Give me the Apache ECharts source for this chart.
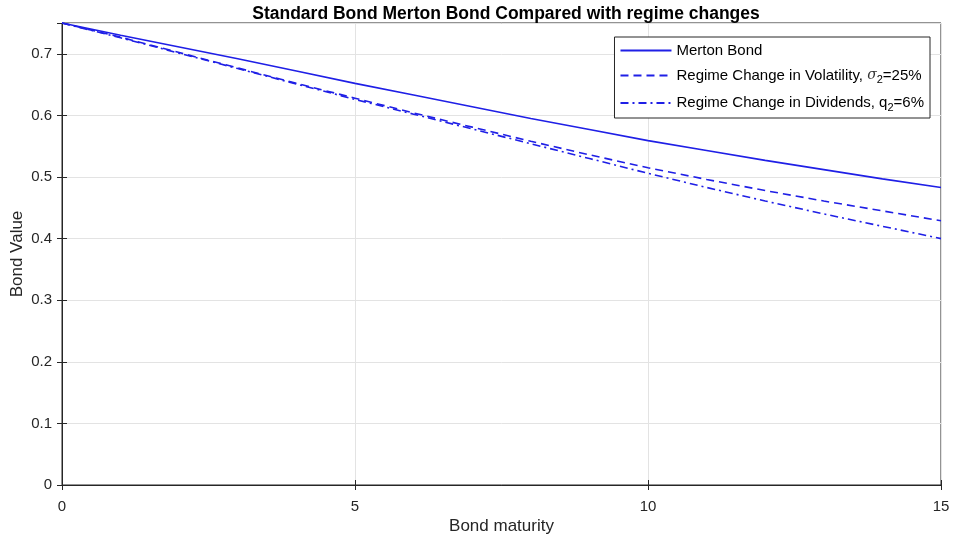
<!DOCTYPE html>
<html>
<head>
<meta charset="utf-8">
<script src="https://cdn.jsdelivr.net/npm/echarts@6/dist/echarts.min.js"></script>
<style>
  html, body { margin: 0; padding: 0; background: #fff; }
  #main { width: 953px; height: 543px; }
</style>
</head>
<body>
<div id="main"></div>
<script>
// maturities (years)
const maturity = [0, 1, 2, 3, 4, 5, 6, 7, 8, 9, 10, 11, 12, 13, 14, 15]
// bond values
const mertonBond = [0.750, 0.730, 0.711, 0.692, 0.672, 0.652, 0.633, 0.614, 0.595, 0.577, 0.559, 0.543, 0.527, 0.512, 0.497, 0.483]
const volRegime = [0.750, 0.727, 0.702, 0.677, 0.652, 0.628, 0.604, 0.581, 0.558, 0.536, 0.515, 0.496, 0.478, 0.461, 0.445, 0.429]
const divRegime = [0.750, 0.726, 0.701, 0.676, 0.651, 0.626, 0.602, 0.578, 0.554, 0.530, 0.506, 0.483, 0.461, 0.440, 0.420, 0.400]
const yTicks = [0, 0.1, 0.2, 0.3, 0.4, 0.5, 0.6, 0.7]

const blue = '#1f1fe6'
const font = 'Liberation Sans, Arial, Helvetica, sans-serif'

const pairs = (ys) => maturity.map((x, i) => [x, ys[i]])

var myChart = echarts.init(document.getElementById('main'))

// MATLAB style: small ticks pointing into the plot
const tick = () => ({ show: true, inside: true, length: 5, lineStyle: { color: '#262626', width: 1 } })

var option = {
    animation: false,
    backgroundColor: '#fff',
    title: {
        text: 'Standard Bond Merton Bond Compared with regime changes',
        left: 501, top: 0, textAlign: 'center',
        textStyle: { fontFamily: font, fontSize: 17.5, fontWeight: 'bold', color: '#000' }
    },
    grid: {
        left: 62, right: 12, top: 23, bottom: 58,
        containLabel: false, outerBoundsMode: 'none',
        show: true, borderColor: '#262626', borderWidth: 1, backgroundColor: 'transparent'
    },
    legend: {
        orient: 'vertical',
        right: 23, top: 37,
        padding: [6, 6, 5, 5],
        itemGap: 10,
        itemWidth: 51, itemHeight: 14,
        backgroundColor: '#fff',
        borderColor: '#262626', borderWidth: 1,
        itemStyle: { opacity: 0 },
        textStyle: {
            fontFamily: font, fontSize: 15, color: '#000', padding: [0, 0, 0, 0],
            rich: {
                t: { fontFamily: font, fontSize: 15, color: '#000' },
                g: { fontFamily: 'DejaVu Serif, serif', fontStyle: 'italic', fontSize: 14, color: '#333' },
                sub: { fontFamily: font, fontSize: 11, color: '#000', padding: [9, 0, 0, 0] }
            }
        },
        formatter: function (name) {
            if (name === 'vol') return '{t|Regime Change in Volatility, }{g|σ}{sub|2}{t|=25%}'
            if (name === 'div') return '{t|Regime Change in Dividends, q}{sub|2}{t|=6%}'
            return '{t|Merton Bond}'
        },
        data: ['Merton Bond', 'vol', 'div']
    },
    xAxis: [{
        type: 'value', min: 0, max: 15, interval: 5,
        name: 'Bond maturity', nameLocation: 'middle', nameGap: 33, nameMoveOverlap: false,
        nameTextStyle: { fontFamily: font, fontSize: 17, color: '#262626' },
        axisLine: { show: true, lineStyle: { color: '#262626' } },
        axisTick: tick(),
        axisLabel: { fontFamily: font, fontSize: 15, color: '#262626', margin: 14 },
        splitLine: { show: true, lineStyle: { color: '#e3e3e3', width: 1 } }
    }, {
        type: 'value', min: 0, max: 15, interval: 5, position: 'top',
        axisLine: { show: true, lineStyle: { color: '#262626' } },
        axisTick: tick(), axisLabel: { show: false }, splitLine: { show: false }
    }],
    yAxis: [{
        type: 'value', min: 0, max: 0.75, interval: 0.1,
        name: 'Bond Value', nameLocation: 'middle', nameGap: 36, nameRotate: 90, nameMoveOverlap: false,
        nameTextStyle: { fontFamily: font, fontSize: 17, color: '#262626' },
        axisLine: { show: true, lineStyle: { color: '#262626' } },
        axisTick: tick(),
        axisLabel: {
            fontFamily: font, fontSize: 15, color: '#262626', margin: 10,
            formatter: v => yTicks.some(t => Math.abs(t - v) < 1e-9) ? String(+v.toFixed(1)) : ''
        },
        splitLine: { show: true, lineStyle: { color: '#e3e3e3', width: 1 } }
    }, {
        type: 'value', min: 0, max: 0.75, interval: 0.1, position: 'right',
        axisLine: { show: true, lineStyle: { color: '#262626' } },
        axisTick: tick(), axisLabel: { show: false }, splitLine: { show: false }
    }],
    series: [
        {
            name: 'Merton Bond', type: 'line', symbol: 'none',
            data: pairs(mertonBond),
            lineStyle: { color: blue, width: 1.6 }, itemStyle: { color: blue }
        },
        {
            name: 'vol', type: 'line', symbol: 'none',
            data: pairs(volRegime),
            lineStyle: { color: blue, width: 1.6, type: [8, 5] }, itemStyle: { color: blue }
        },
        {
            name: 'div', type: 'line', symbol: 'none',
            data: pairs(divRegime),
            lineStyle: { color: blue, width: 1.6, type: [8, 4, 2, 4] }, itemStyle: { color: blue }
        }
    ]
}

myChart.setOption(option)
</script>
</body>
</html>
